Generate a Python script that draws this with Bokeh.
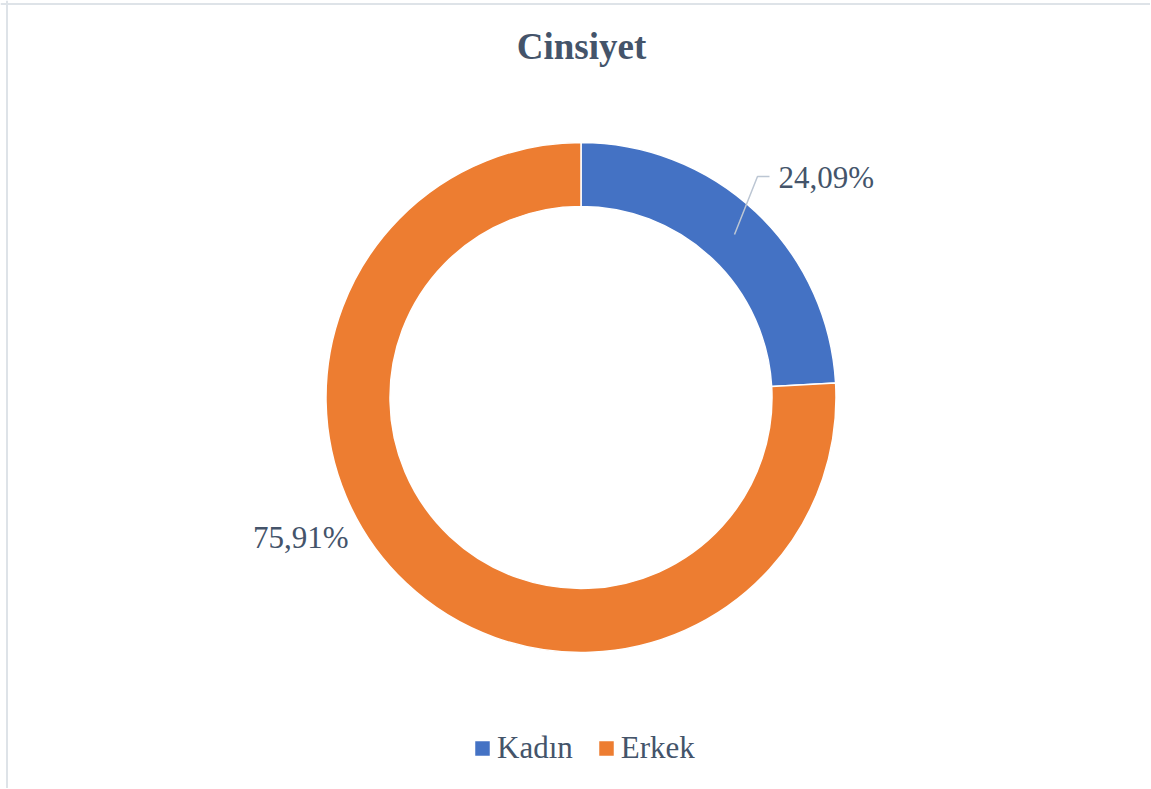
import math
from bokeh.plotting import figure
from bokeh.models import Range1d, Span, ColumnDataSource
from bokeh.embed import file_html
from bokeh.resources import INLINE
from bokeh.core.properties import value

# ---- data ----
title_text = "Cinsiyet"
categories = ["Kadın", "Erkek"]
percentages = [24.09, 75.91]
label_texts = ["24,09%", "75,91%"]
colors = ["#4472C4", "#ED7D31"]

# ---- layout / style ----
W, H = 1150, 788
CX, CY = 580.5, 391.0
R_OUT, R_IN = 255, 191
TEXT_COLOR = "#44546A"
FONT = "'Liberation Serif', 'Times New Roman', serif"

total = sum(percentages)
starts, ends = [], []
cum = 0.0
for v in percentages:
    a0 = math.pi / 2 - 2 * math.pi * cum / total
    cum += v
    a1 = math.pi / 2 - 2 * math.pi * cum / total
    starts.append(a1)
    ends.append(a0)

source = ColumnDataSource(dict(
    category=categories, value=percentages, color=colors,
    start=starts, end=ends,
    x=[CX] * len(categories), y=[CY] * len(categories),
))

p = figure(width=W, height=H, x_range=Range1d(0, W), y_range=Range1d(0, H),
           output_backend="svg", toolbar_location=None, min_border=0)
p.axis.visible = False
p.grid.visible = False
p.outline_line_color = None
p.background_fill_color = "white"
p.border_fill_color = "white"

p.annular_wedge(x="x", y="y", inner_radius=R_IN, outer_radius=R_OUT,
                start_angle="start", end_angle="end", fill_color="color",
                line_color="white", line_width=1.5, source=source,
                legend_field="category")

# title
p.text(x=[581], y=[742], text=[title_text], text_font=value(FONT),
       text_font_style="bold", text_font_size="37px", text_color=TEXT_COLOR,
       text_align="center", text_baseline="alphabetic")

# data labels
label_x = [778, 348]
label_y = [611, 251]
label_align = ["left", "right"]
for i in range(len(categories)):
    p.text(x=[label_x[i]], y=[label_y[i]], text=[label_texts[i]], text_font=value(FONT),
           text_font_size="31px", text_color=TEXT_COLOR,
           text_align=label_align[i], text_baseline="alphabetic")

# leader line for first label
p.line(x=[734, 757, 769], y=[554, 612, 612], line_color="#BCC6D3", line_width=1.5)

# legend
lg = p.legend[0]
lg.orientation = "horizontal"
lg.location = (472, 22)
lg.label_text_font = FONT
lg.label_text_font_size = "31px"
lg.label_text_color = TEXT_COLOR
lg.glyph_width = 20
lg.glyph_height = 20
lg.label_standoff = 5
lg.spacing = 23
lg.padding = 0
lg.margin = 0
lg.border_line_color = None
lg.background_fill_alpha = 0

# chart border (left & top)
p.add_layout(Span(location=6.5, dimension="height", line_color="#DEE3E8", line_width=2))
p.add_layout(Span(location=H - 3.5, dimension="width", line_color="#DEE3E8", line_width=2))

open("out.html", "w").write(file_html(p, INLINE))
